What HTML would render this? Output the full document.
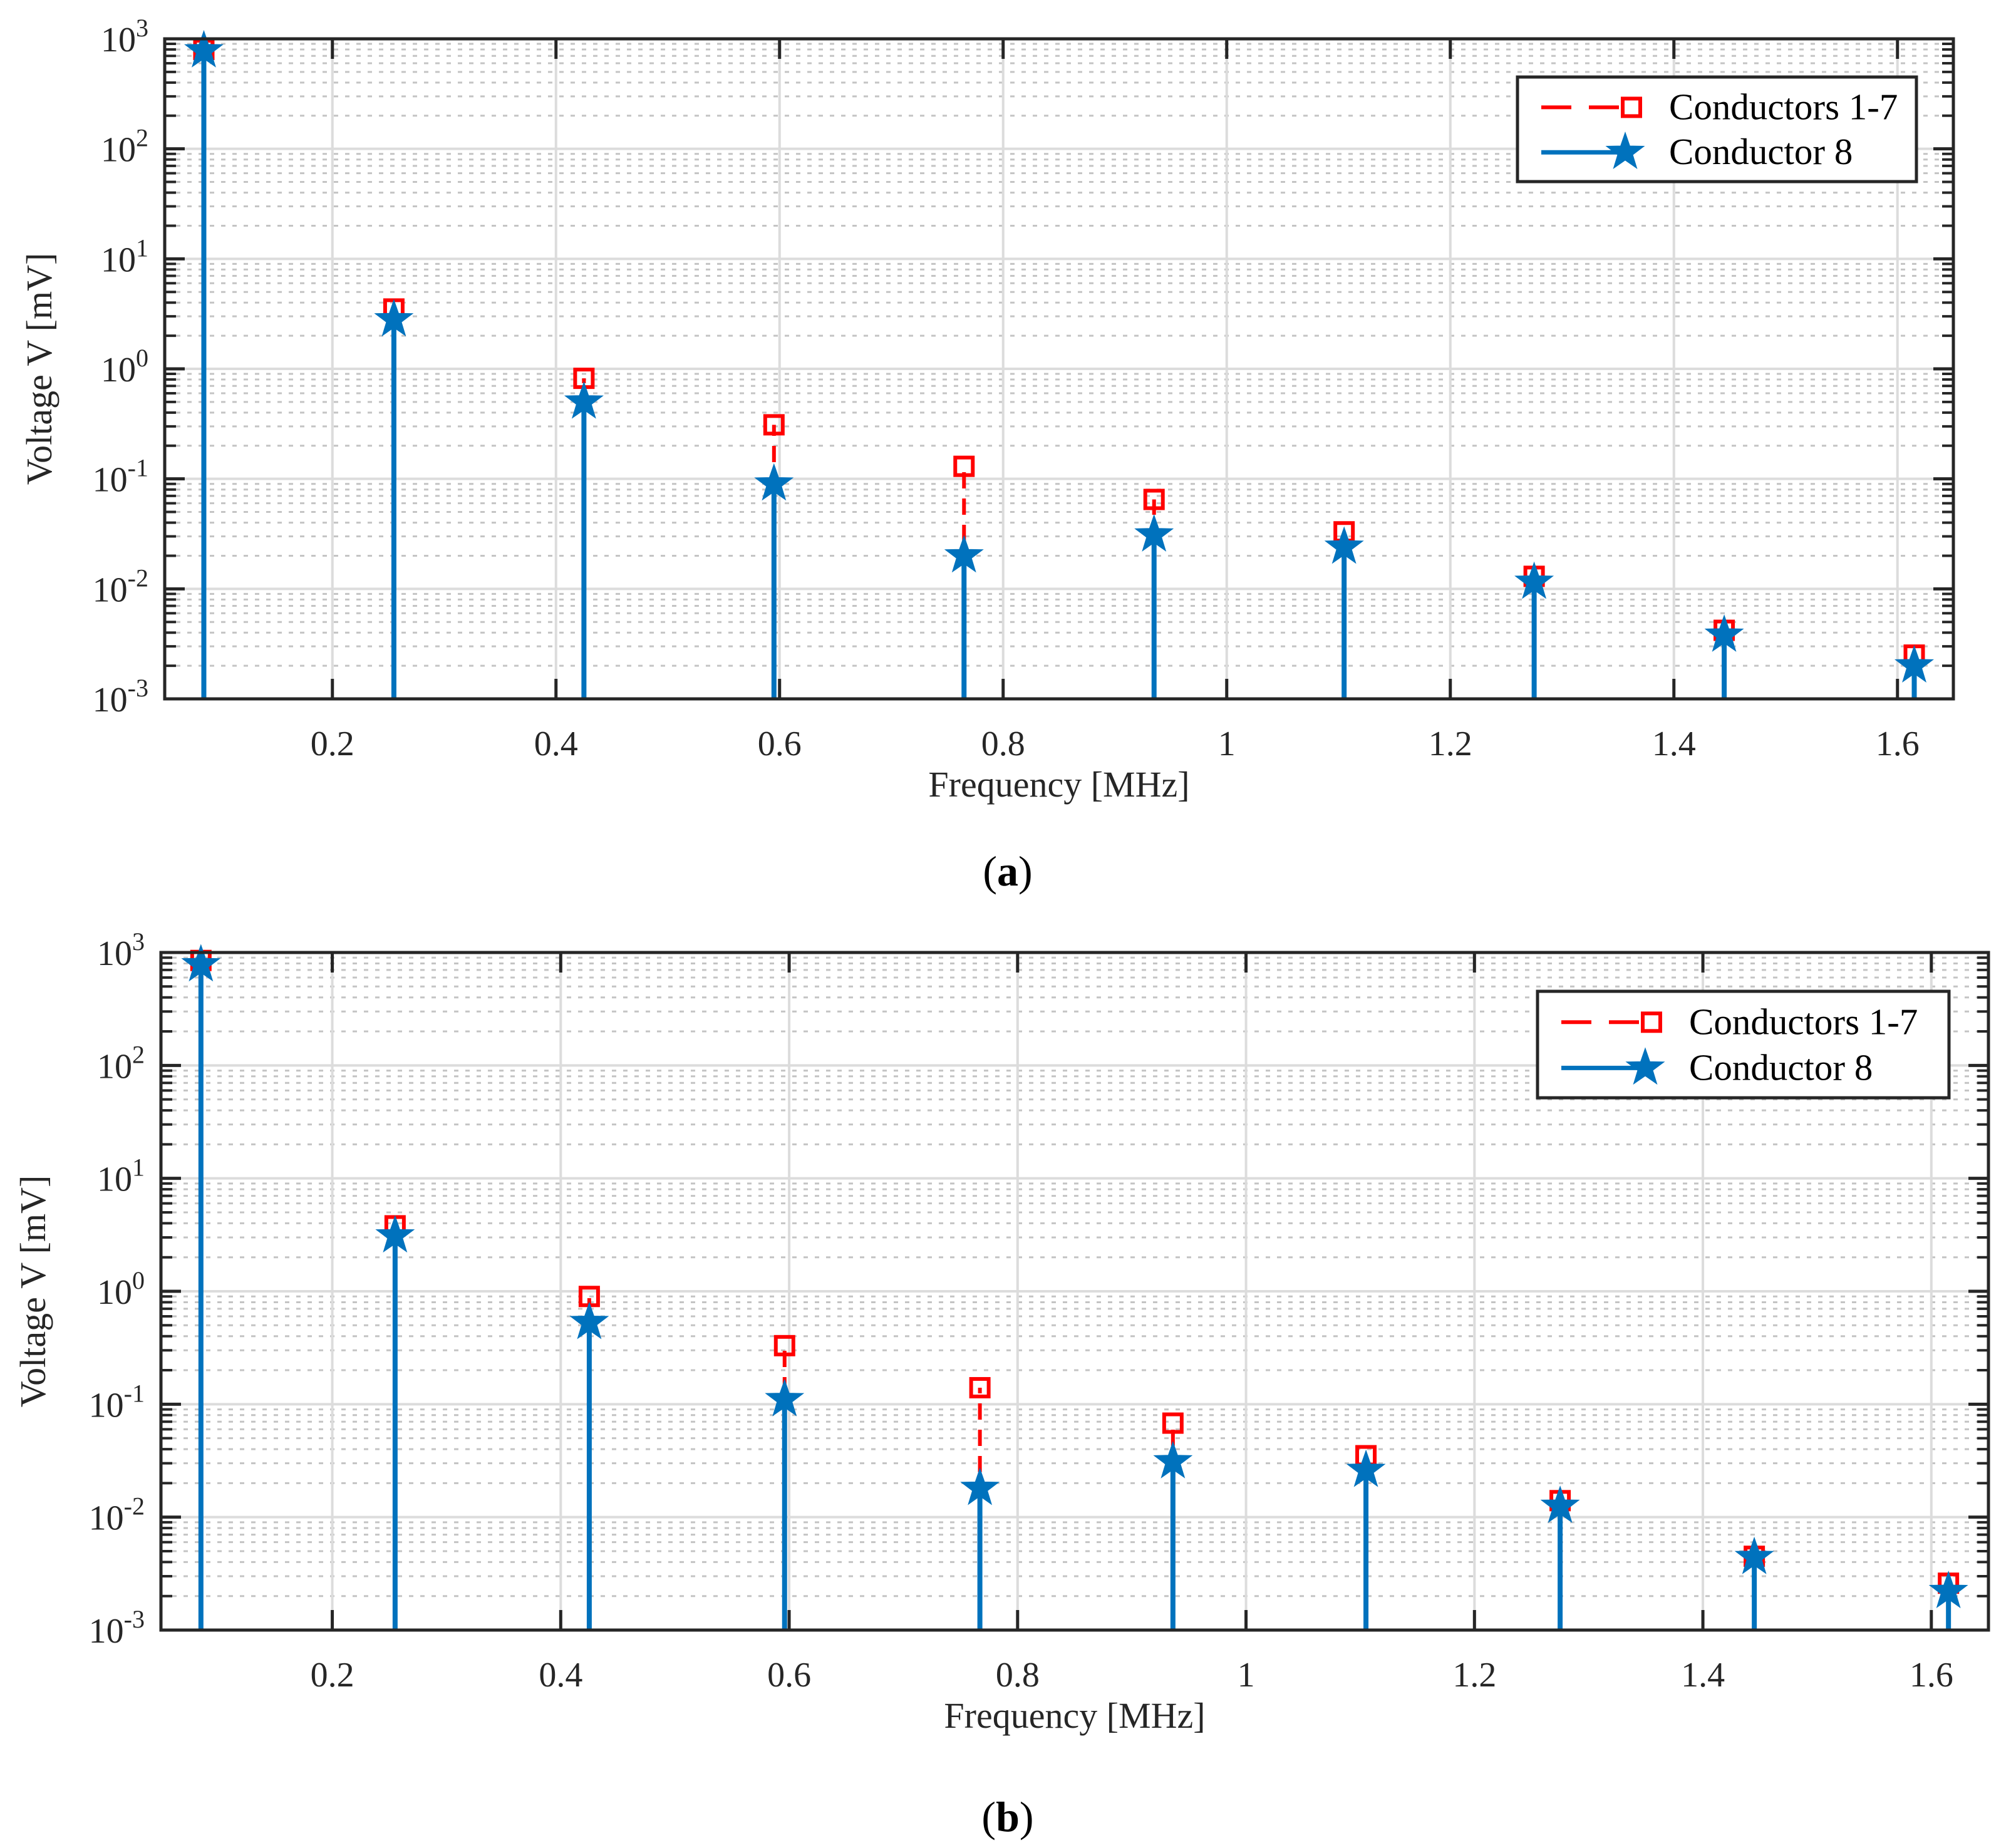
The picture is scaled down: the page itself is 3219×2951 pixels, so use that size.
<!DOCTYPE html>
<html><head><meta charset="utf-8"><style>
html,body{margin:0;padding:0;background:#fff;}
svg{display:block;font-family:"Liberation Serif",serif;}
</style></head><body>
<svg id="fig" width="3219" height="2951" viewBox="0 0 3219 2951" xmlns="http://www.w3.org/2000/svg">
<rect x="0" y="0" width="3219" height="2951" fill="#fff"/>
<g id="chartA"></g>
<g id="chartB"></g>
<text x="1609" y="1414" text-anchor="middle" font-size="68" fill="#000">(<tspan font-weight="bold">a</tspan>)</text>
<text x="1609" y="2924" text-anchor="middle" font-size="68" fill="#000">(<tspan font-weight="bold">b</tspan>)</text>
</svg>
<script>
// ---- data ----
const freqA = [0.085,0.255,0.425,0.595,0.765,0.935,1.105,1.275,1.445,1.615];
const condA17 = [800,3.5,0.82,0.31,0.13,0.065,0.033,0.013,0.0042,0.0025];
const condA8 = [780,2.8,0.5,0.09,0.02,0.031,0.024,0.0115,0.0038,0.002];
const freqB = [0.085,0.255,0.425,0.596,0.767,0.936,1.105,1.275,1.445,1.615];
const condB17 = [850,3.8,0.9,0.33,0.14,0.068,0.035,0.014,0.0045,0.0026];
const condB8 = [780,3.1,0.53,0.11,0.018,0.031,0.026,0.0125,0.0044,0.0022];
const xTicks = [0.2,0.4,0.6,0.8,1,1.2,1.4,1.6];
const xTickLabels = ["0.2","0.4","0.6","0.8","1","1.2","1.4","1.6"];
const yExps = [-3,-2,-1,0,1,2,3];

const NS="http://www.w3.org/2000/svg";
function mk(parent, tag, attrs){const e=document.createElementNS(NS,tag);for(const k in attrs)e.setAttribute(k,attrs[k]);parent.appendChild(e);return e;}
function starPath(cx,cy,R){const r=R*0.4;let d="";for(let i=0;i<10;i++){const a=-Math.PI/2+i*Math.PI/5;const rr=i%2?r:R;d+=(i?"L":"M")+(cx+rr*Math.cos(a)).toFixed(1)+","+(cy+rr*Math.sin(a)).toFixed(1);}return d+"Z";}

function drawChart(g, box, freq, s17, s8, leg, ylabX){
  const xmin=0.05,xmax=1.65,ymin=-3,ymax=3;
  const X=v=>box.l+(v-xmin)/(xmax-xmin)*(box.r-box.l);
  const Y=v=>box.b-(Math.log10(v)-ymin)/(ymax-ymin)*(box.b-box.t);
  const gridG=mk(g,"g",{});
  
  
  for(let e=-3;e<3;e++){for(let m=2;m<=9;m++){const y=Y(m*Math.pow(10,e));
    mk(gridG,"line",{x1:box.l,x2:box.r,y1:y,y2:y,stroke:"#c4c4c4","stroke-width":3,"stroke-dasharray":"7 11"});}}
  yExps.forEach(e=>{const y=Y(Math.pow(10,e));mk(gridG,"line",{x1:box.l,x2:box.r,y1:y,y2:y,stroke:"#dcdcdc","stroke-width":4});});
  xTicks.forEach(v=>{const x=X(v);mk(gridG,"line",{x1:x,x2:x,y1:box.t,y2:box.b,stroke:"#dcdcdc","stroke-width":4});});
  freq.forEach((f,i)=>{
    const x=X(f);
    const red=mk(g,"line",{x1:x,x2:x,y1:box.b,y2:Y(s17[i]),stroke:"#ff0000","stroke-width":6,"stroke-dasharray":"26 16"});
    
    
    const sq=mk(g,"rect",{x:x-14,y:Y(s17[i])-14,width:28,height:28,fill:"none",stroke:"#ff0000","stroke-width":6});
    
    
  });
  freq.forEach((f,i)=>{
    const x=X(f);
    const bl=mk(g,"line",{x1:x,x2:x,y1:box.b,y2:Y(s8[i]),stroke:"#0072BD","stroke-width":8});
    
    
    const st=mk(g,"path",{d:starPath(x,Y(s8[i]),27),fill:"#0072BD",stroke:"#0072BD","stroke-width":4,"stroke-linejoin":"miter"});
    
    
  });
  const ax=mk(g,"g",{stroke:"#262626","stroke-width":5,fill:"none"});
  
  
  mk(ax,"rect",{x:box.l,y:box.t,width:box.r-box.l,height:box.b-box.t});
  for(let e=-3;e<3;e++){for(let m=2;m<=9;m++){const y=Y(m*Math.pow(10,e));
    mk(ax,"line",{x1:box.l,x2:box.l+18,y1:y,y2:y,"stroke-width":4});
    mk(ax,"line",{x1:box.r,x2:box.r-18,y1:y,y2:y,"stroke-width":4});}}
  yExps.forEach(e=>{const y=Y(Math.pow(10,e));
    mk(ax,"line",{x1:box.l,x2:box.l+32,y1:y,y2:y});mk(ax,"line",{x1:box.r,x2:box.r-32,y1:y,y2:y});});
  xTicks.forEach(v=>{const x=X(v);
    mk(ax,"line",{x1:x,x2:x,y1:box.b,y2:box.b-32});mk(ax,"line",{x1:x,x2:x,y1:box.t,y2:box.t+32});});
  xTicks.forEach((v,i)=>{const t=mk(g,"text",{x:X(v),y:box.b+90,"text-anchor":"middle","font-size":56,fill:"#262626"});t.textContent=xTickLabels[i];
    
    });
  yExps.forEach(e=>{const y=Y(Math.pow(10,e));
    const t=mk(g,"text",{x:box.l-26,y:y+20,"text-anchor":"end","font-size":56,fill:"#262626"});
    
    
    const a=mk(t,"tspan",{});a.textContent="10";
    const b=mk(t,"tspan",{dy:-24,"font-size":40});b.textContent=String(e);});
  const xl=mk(g,"text",{x:(box.l+box.r)/2,y:box.b+156,"text-anchor":"middle","font-size":58,fill:"#262626"});
  xl.textContent="Frequency [MHz]";
  
  
  const ym=(box.t+box.b)/2;
  const yl=mk(g,"text",{x:ylabX,y:ym,"text-anchor":"middle","font-size":58,fill:"#262626",transform:`rotate(-90 ${ylabX} ${ym})`});
  yl.textContent="Voltage V [mV]";
  
  
  const lg=mk(g,"g",{});
  
  
  mk(lg,"rect",{x:leg.l,y:leg.t,width:leg.r-leg.l,height:leg.b-leg.t,fill:"#fff",stroke:"#262626","stroke-width":5});
  const r1=leg.t+(leg.b-leg.t)*0.29, r2=leg.t+(leg.b-leg.t)*0.72;
  const lx1=leg.l+38, lx2=leg.l+182;
  const e1=mk(lg,"g",{});
  
  
  mk(e1,"line",{x1:lx1,x2:lx2,y1:r1,y2:r1,stroke:"#ff0000","stroke-width":6,"stroke-dasharray":"48 28"});
  mk(e1,"rect",{x:lx2-14,y:r1-14,width:28,height:28,fill:"#fff",stroke:"#ff0000","stroke-width":6});
  const t1=mk(e1,"text",{x:leg.l+242,y:r1+19,"font-size":59,fill:"#000"});t1.textContent="Conductors 1-7";
  const e2=mk(lg,"g",{});
  
  
  mk(e2,"line",{x1:lx1,x2:lx2,y1:r2,y2:r2,stroke:"#0072BD","stroke-width":7});
  mk(e2,"path",{d:starPath(lx2-10,r2,27),fill:"#0072BD",stroke:"#0072BD","stroke-width":4});
  const t2=mk(e2,"text",{x:leg.l+242,y:r2+19,"font-size":59,fill:"#000"});t2.textContent="Conductor 8";
}
drawChart(document.getElementById("chartA"),{l:263,r:3119,t:62,b:1116},freqA,condA17,condA8,{l:2423,r:3060,t:123,b:290},82);
drawChart(document.getElementById("chartB"),{l:257,r:3175,t:1521,b:2603},freqB,condB17,condB8,{l:2455,r:3112,t:1583,b:1753},72);
</script>
</body></html>
